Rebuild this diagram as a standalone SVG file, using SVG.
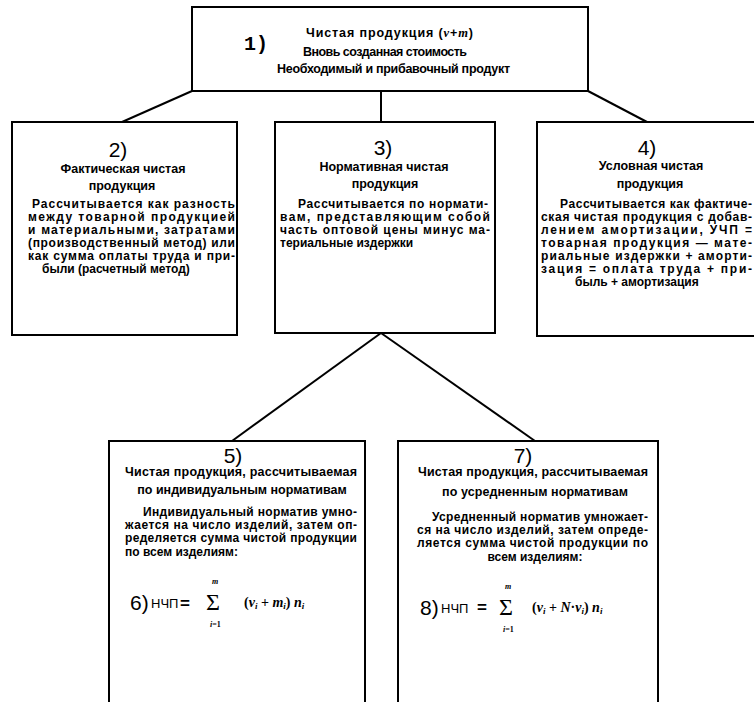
<svg xmlns="http://www.w3.org/2000/svg" width="754" height="702" viewBox="0 0 754 702">
<style>
.box{fill:#fff;stroke:#000;stroke-width:2}
.conn{stroke:#000;stroke-width:2;fill:none}
.t{font-family:"Liberation Sans",Arial,sans-serif;font-weight:bold;font-size:12px;fill:#000}
.h{font-family:"Liberation Sans",Arial,sans-serif;font-weight:bold;font-size:12.5px;fill:#000}
.c{text-anchor:middle}
.n{font-family:"Liberation Sans",Arial,sans-serif;font-size:21px;fill:#000;text-anchor:middle}
.f{font-family:"Liberation Serif","Times New Roman",serif;font-size:14px;font-weight:bold;fill:#000}
.fs{font-family:"Liberation Sans",Arial,sans-serif;font-size:13px;fill:#000}
.i{font-style:italic}
.sub{font-size:9px;font-style:italic}
.lim{font-family:"Liberation Serif","Times New Roman",serif;font-size:8px;font-weight:bold;fill:#000}
</style>
<rect width="754" height="702" fill="#fff"/>
<g id="connectors">
<path class="conn" d="M192,91 L122,122"/>
<path class="conn" d="M588,91 L647,122"/>
<path class="conn" d="M381,91 L381,122"/>
<path class="conn" d="M381,333 L232,441"/>
<path class="conn" d="M381,333 L535,441"/>
</g>
<g id="node1">
<rect class="box" x="192" y="7" width="396" height="84"/>
<text x="256" y="50" style="font-family:'Liberation Mono',monospace;font-weight:bold;font-size:20px;text-anchor:middle">1)</text>
<text class="h" x="306" y="37" textLength="167" lengthAdjust="spacing">Чистая продукция (<tspan class="i" style="font-family:'Liberation Serif',serif">v</tspan>+<tspan class="i" style="font-family:'Liberation Serif',serif">m</tspan>)</text>
<text class="h" x="303" y="56" textLength="164" lengthAdjust="spacing">Вновь созданная стоимость</text>
<text class="h" x="277" y="73" textLength="233" lengthAdjust="spacing">Необходимый и прибавочный продукт</text>
</g>
<g id="node2">
<rect class="box" x="12" y="122" width="225" height="213"/>
<text class="n" x="118" y="157">2)</text>
<text class="h c" x="123" y="173">Фактическая чистая</text>
<text class="h c" x="122" y="190">продукция</text>
<text class="t" x="32" y="208" textLength="203" lengthAdjust="spacing">Рассчитывается как разность</text>
<text class="t" x="28" y="221" textLength="207" lengthAdjust="spacing">между товарной продукцией</text>
<text class="t" x="28" y="234" textLength="207" lengthAdjust="spacing">и материальными, затратами</text>
<text class="t" x="28" y="247" textLength="207" lengthAdjust="spacing">(производственный метод) или</text>
<text class="t" x="28" y="260" textLength="207" lengthAdjust="spacing">как сумма оплаты труда и при-</text>
<text class="t" x="42" y="273">были (расчетный метод)</text>
</g>
<g id="node3">
<rect class="box" x="275" y="122" width="220" height="211"/>
<text class="n" x="383" y="155">3)</text>
<text class="h c" x="384" y="171">Нормативная чистая</text>
<text class="h c" x="385" y="188">продукция</text>
<text class="t" x="298" y="208" textLength="190" lengthAdjust="spacing">Рассчитывается по нормати-</text>
<text class="t" x="280" y="221" textLength="210" lengthAdjust="spacing">вам, представляющим собой</text>
<text class="t" x="280" y="234" textLength="210" lengthAdjust="spacing">часть оптовой цены минус ма-</text>
<text class="t" x="280" y="247">териальные издержки</text>
</g>
<g id="node4">
<rect class="box" x="537" y="122" width="230" height="214"/>
<text class="n" x="647" y="155">4)</text>
<text class="h c" x="651" y="170">Условная чистая</text>
<text class="h c" x="650" y="188">продукция</text>
<text class="t" x="560" y="208" textLength="192" lengthAdjust="spacing">Рассчитывается как фактиче-</text>
<text class="t" x="541" y="221" textLength="211" lengthAdjust="spacing">ская чистая продукция с добав-</text>
<text class="t" x="541" y="234" textLength="211" lengthAdjust="spacing">лением амортизации, УЧП =</text>
<text class="t" x="541" y="247" textLength="211" lengthAdjust="spacing">товарная продукция — мате-</text>
<text class="t" x="541" y="260" textLength="211" lengthAdjust="spacing">риальные издержки + аморти-</text>
<text class="t" x="541" y="273" textLength="211" lengthAdjust="spacing">зация = оплата труда + при-</text>
<text class="t" x="575" y="286">быль + амортизация</text>
</g>
<g id="node5">
<rect class="box" x="109" y="441" width="256" height="280"/>
<text class="n" x="233" y="463">5)</text>
<text class="h" x="125" y="476" textLength="232" lengthAdjust="spacing">Чистая продукция, рассчитываемая</text>
<text class="h c" x="242" y="494">по индивидуальным нормативам</text>
<text class="t" x="143" y="516" textLength="214" lengthAdjust="spacing">Индивидуальный норматив умно-</text>
<text class="t" x="125" y="529" textLength="232" lengthAdjust="spacing">жается на число изделий, затем оп-</text>
<text class="t" x="125" y="542" textLength="232" lengthAdjust="spacing">ределяется сумма чистой продукции</text>
<text class="t" x="125" y="556">по всем изделиям:</text>
<g id="formula6">
<text x="130" y="610" style="font-family:'Liberation Sans',sans-serif;font-size:21px">6)</text>
<text class="fs" x="151" y="608">НЧП</text>
<text x="180" y="609" style="font-family:'Liberation Sans',sans-serif;font-weight:bold;font-size:17px">=</text>
<text x="206" y="610" style="font-family:'Liberation Serif',serif;font-size:24px">Σ</text>
<text class="lim i" x="212" y="584">m</text>
<text class="lim" x="210" y="627"><tspan class="i">i</tspan>=1</text>
<text class="f" x="244" y="607">(<tspan class="i">v</tspan><tspan class="sub" dy="2">i</tspan><tspan dy="-2"> + </tspan><tspan class="i">m</tspan><tspan class="sub" dy="2">i</tspan><tspan dy="-2">) </tspan><tspan class="i">n</tspan><tspan class="sub" dy="2">i</tspan></text>
</g>
</g>
<g id="node7">
<rect class="box" x="398" y="441" width="260" height="280"/>
<text class="n" x="523" y="463">7)</text>
<text class="h" x="418" y="476" textLength="230" lengthAdjust="spacing">Чистая продукция, рассчитываемая</text>
<text class="h" x="442" y="496" textLength="186" lengthAdjust="spacing">по усредненным нормативам</text>
<text class="t" x="432" y="521" textLength="216" lengthAdjust="spacing">Усредненный норматив умножает-</text>
<text class="t" x="417" y="534" textLength="231" lengthAdjust="spacing">ся на число изделий, затем опреде-</text>
<text class="t" x="417" y="547" textLength="231" lengthAdjust="spacing">ляется сумма чистой продукции по</text>
<text class="t c" x="535" y="561">всем изделиям:</text>
<g id="formula8">
<text x="420" y="615" style="font-family:'Liberation Sans',sans-serif;font-size:21px">8)</text>
<text class="fs" x="441" y="613">НЧП</text>
<text x="477" y="613" style="font-family:'Liberation Sans',sans-serif;font-weight:bold;font-size:17px">=</text>
<text x="499" y="615" style="font-family:'Liberation Serif',serif;font-size:24px">Σ</text>
<text class="lim i" x="505" y="589">m</text>
<text class="lim" x="503" y="632"><tspan class="i">i</tspan>=1</text>
<text class="f" x="532" y="612">(<tspan class="i">v</tspan><tspan class="sub" dy="2">i</tspan><tspan dy="-2"> + </tspan><tspan class="i">N</tspan>·<tspan class="i">v</tspan><tspan class="sub" dy="2">i</tspan><tspan dy="-2">) </tspan><tspan class="i">n</tspan><tspan class="sub" dy="2">i</tspan></text>
</g>
</g>
</svg>
